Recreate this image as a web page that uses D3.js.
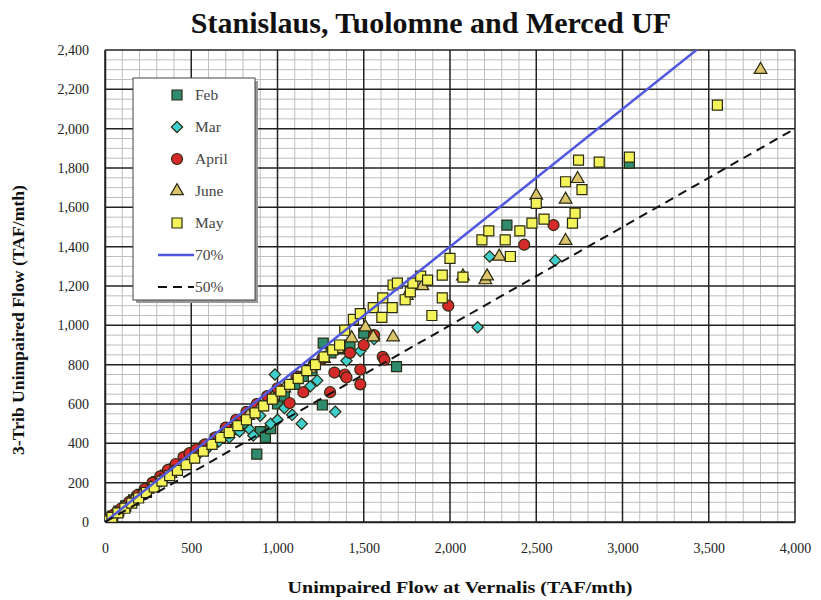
<!DOCTYPE html>
<html>
<head>
<meta charset="utf-8">
<script src="https://cdn.jsdelivr.net/npm/d3@7"></script>
<style>
  body { margin: 0; background: #fff; }
  text { font-family: "Liberation Serif", "Times New Roman", serif; }
</style>
</head>
<body>
<script>
// data: [Vernalis UF, 3-trib UF] in TAF/mth
var febPts = [[15,10],[45,30],[80,55],[120,82],[165,112],[210,140],[255,172],[300,205],[350,238],[400,270],[460,310],[520,350],[580,385],[640,420],[700,455],[760,470],[820,500],[880,345],[900,460],[930,430],[960,475],[1000,600],[1040,640],[1100,700],[1150,740],[1200,770],[1265,910],[1260,595],[1310,860],[1360,880],[1420,900],[1500,960],[1690,790],[2330,1510],[3040,1825]];
var marPts = [[10,7],[35,22],[70,45],[110,72],[150,98],[200,130],[250,162],[300,195],[360,235],[420,270],[480,305],[540,345],[600,380],[660,410],[720,430],[780,460],[840,470],[860,440],[900,540],[960,500],[985,750],[1000,520],[1040,580],[1085,545],[1140,500],[1190,690],[1230,720],[1335,560],[1400,820],[1480,870],[1560,930],[2160,990],[2230,1350],[2610,1330]];
var aprPts = [[20,15],[55,40],[95,70],[140,102],[185,135],[230,168],[275,200],[320,232],[365,265],[410,295],[455,330],[490,350],[530,370],[580,395],[640,430],[700,480],[760,520],[820,560],[880,600],[940,640],[1000,680],[1070,605],[1110,740],[1150,660],[1210,800],[1260,830],[1305,660],[1330,760],[1390,750],[1400,735],[1420,860],[1480,775],[1480,700],[1500,900],[1560,950],[1610,840],[1620,825],[1990,1100],[2430,1410],[2600,1510]];
var junPts = [[25,16],[65,42],[110,72],[160,105],[210,137],[265,173],[320,208],[380,245],[440,285],[500,322],[560,362],[620,400],[690,445],[760,492],[830,540],[900,585],[970,630],[1040,680],[1110,725],[1190,780],[1270,830],[1350,880],[1430,935],[1510,990],[1555,940],[1670,940],[1750,1150],[1840,1200],[2075,1250],[2205,1230],[2215,1250],[2285,1350],[2500,1660],[2670,1430],[2670,1640],[2740,1745],[3800,2300]];
var mayPts = [[10,6],[40,24],[75,46],[115,70],[155,96],[195,122],[240,150],[285,178],[330,208],[375,236],[420,262],[470,292],[520,325],[570,360],[620,395],[670,430],[720,455],[770,490],[820,520],[870,555],[920,590],[970,625],[1020,665],[1070,700],[1120,730],[1170,770],[1220,800],[1270,840],[1320,875],[1360,900],[1390,975],[1440,1030],[1480,1060],[1555,1090],[1605,1040],[1610,1140],[1665,1090],[1670,1205],[1695,1215],[1740,1130],[1770,1170],[1785,1215],[1830,1250],[1870,1230],[1895,1050],[1955,1140],[1955,1255],[2000,1340],[2075,1245],[2185,1435],[2225,1480],[2320,1435],[2350,1350],[2405,1480],[2475,1520],[2500,1620],[2545,1540],[2710,1520],[2725,1570],[2670,1730],[2765,1690],[2745,1840],[2865,1830],[3040,1855],[3550,2120]];

var refNames = ['70%', '50%'];
var refRatios = [0.7, 0.5];
var xTicks = [0, 500, 1000, 1500, 2000, 2500, 3000, 3500, 4000];
var yTicks = [0, 200, 400, 600, 800, 1000, 1200, 1400, 1600, 1800, 2000, 2200, 2400];

(function () {
	var W = 821, H = 600;
	var pL = 105, pR = 795, pT = 50, pB = 522;

	var svg = d3.select('body').append('svg').attr('width', W).attr('height', H);

	var x = d3.scaleLinear().domain([0, 4000]).range([pL, pR]);
	var y = d3.scaleLinear().domain([0, 2400]).range([pB, pT]);
	var fmt = d3.format(',');

	// title
	svg.append('text').attr('x', 431).attr('y', 33).attr('text-anchor', 'middle')
		.attr('font-size', 30).attr('font-weight', 'bold').attr('fill', '#111')
		.text('Stanislaus, Tuolomne and Merced UF');

	// minor grid
	var g = svg.append('g');
	g.selectAll('.mx').data(d3.range(100, 4000, 100).filter(function (v) { return v % 500; })).enter()
		.append('line').attr('x1', x).attr('x2', x).attr('y1', pT).attr('y2', pB)
		.attr('stroke', '#bdbdbd').attr('stroke-width', 1);
	g.selectAll('.my').data(d3.range(50, 2400, 50).filter(function (v) { return v % 200; })).enter()
		.append('line').attr('y1', y).attr('y2', y).attr('x1', pL).attr('x2', pR)
		.attr('stroke', '#bdbdbd').attr('stroke-width', 1);

	// major grid
	g.selectAll('.Mx').data(xTicks).enter()
		.append('line').attr('x1', x).attr('x2', x).attr('y1', pT).attr('y2', pB)
		.attr('stroke', '#222').attr('stroke-width', 1.5);
	g.selectAll('.My').data(yTicks).enter()
		.append('line').attr('y1', y).attr('y2', y).attr('x1', pL).attr('x2', pR)
		.attr('stroke', '#222').attr('stroke-width', 1.5);

	// axes
	var xAxis = svg.append('g').attr('transform', 'translate(0,' + pB + ')')
		.call(d3.axisBottom(x).tickValues(xTicks).tickFormat(fmt).tickSize(0).tickPadding(21));
	var yAxis = svg.append('g').attr('transform', 'translate(' + pL + ',0)')
		.call(d3.axisLeft(y).tickValues(yTicks).tickFormat(fmt).tickSize(0).tickPadding(16));
	[xAxis, yAxis].forEach(function (a) {
		a.select('.domain').attr('stroke', '#222').attr('stroke-width', 1.5);
		a.selectAll('text').attr('font-size', 14).attr('fill', '#222')
			.attr('font-family', '"Liberation Serif", serif');
	});

	svg.append('text').attr('x', 460).attr('y', 593).attr('text-anchor', 'middle')
		.attr('font-size', 17).attr('font-weight', 'bold').attr('fill', '#111')
		.attr('textLength', 345).attr('lengthAdjust', 'spacingAndGlyphs')
		.text('Unimpaired Flow at Vernalis (TAF/mth)');
	svg.append('text').attr('transform', 'translate(24,320) rotate(-90)').attr('text-anchor', 'middle')
		.attr('font-size', 16).attr('font-weight', 'bold').attr('fill', '#111')
		.attr('textLength', 270).attr('lengthAdjust', 'spacingAndGlyphs')
		.text('3-Trib Unimpaired Flow  (TAF/mth)');

	// series styles (Mar: a square turned 45 degrees)
	var series = [
		{ name: 'Feb', pts: febPts, shape: d3.symbolSquare, size: 100, rot: 0, fill: '#2e8b6e' },
		{ name: 'Mar', pts: marPts, shape: d3.symbolSquare, size: 64, rot: 45, fill: '#3fcfcf' },
		{ name: 'April', pts: aprPts, shape: d3.symbolCircle, size: 95, rot: 0, fill: '#d42a2a' },
		{ name: 'June', pts: junPts, shape: d3.symbolTriangle, size: 70, rot: 0, fill: '#dcc46c' },
		{ name: 'May', pts: mayPts, shape: d3.symbolSquare, size: 100, rot: 0, fill: '#f4f45a' }
	];

	svg.append('clipPath').attr('id', 'plot').append('rect')
		.attr('x', pL).attr('y', pT).attr('width', pR - pL).attr('height', pB - pT);

	var marks = svg.append('g').attr('clip-path', 'url(#plot)');
	series.forEach(function (s) {
		marks.selectAll(null).data(s.pts).enter().append('path')
			.attr('d', d3.symbol().type(s.shape).size(s.size))
			.attr('transform', function (d) { return 'translate(' + x(d[0]) + ',' + y(d[1]) + ') rotate(' + s.rot + ')'; })
			.attr('fill', s.fill).attr('stroke', '#2a2a10').attr('stroke-width', 1.2);
	});

	// reference lines
	var lineStyles = [
		{ stroke: '#5058e0', width: 2.5, dash: null },
		{ stroke: '#111', width: 2, dash: '9,6' }
	];
	refRatios.forEach(function (r, i) {
		marks.append('line')
			.attr('x1', x(0)).attr('y1', y(0)).attr('x2', x(4000)).attr('y2', y(4000 * r))
			.attr('stroke', lineStyles[i].stroke).attr('stroke-width', lineStyles[i].width)
			.attr('stroke-dasharray', lineStyles[i].dash);
	});

	// legend
	var leg = svg.append('g');
	leg.append('rect').attr('x', 136).attr('y', 81).attr('width', 122).attr('height', 222).attr('fill', '#999');
	leg.append('rect').attr('x', 133).attr('y', 78).attr('width', 122).attr('height', 222)
		.attr('fill', '#fff').attr('stroke', '#444').attr('stroke-width', 1);
	var rows = series.map(function (s) { return { name: s.name, s: s }; })
		.concat(refNames.map(function (n, i) { return { name: n, l: lineStyles[i] }; }));
	rows.forEach(function (r, i) {
		var cy = 95 + i * 32;
		if (r.s) {
			leg.append('path').attr('d', d3.symbol().type(r.s.shape).size(r.s.size))
				.attr('transform', 'translate(177,' + cy + ') rotate(' + r.s.rot + ')')
				.attr('fill', r.s.fill).attr('stroke', '#2a2a10').attr('stroke-width', 1.2);
			leg.append('text').attr('x', 195).attr('y', cy + 5).attr('font-size', 15.5).attr('fill', '#444').text(r.name);
		} else {
			leg.append('line').attr('x1', 158).attr('x2', 194).attr('y1', cy).attr('y2', cy)
				.attr('stroke', r.l.stroke).attr('stroke-width', r.l.width).attr('stroke-dasharray', r.l.dash);
			leg.append('text').attr('x', 195).attr('y', cy + 5).attr('font-size', 15.5).attr('fill', '#444').text(r.name);
		}
	});
})();
</script>
</body>
</html>
